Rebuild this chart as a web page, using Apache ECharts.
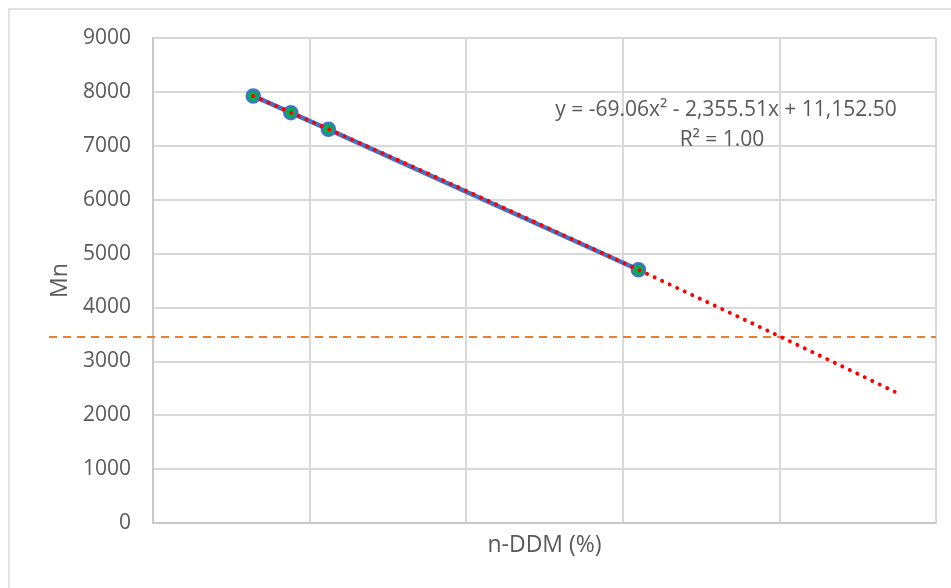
<!DOCTYPE html>
<html>
<head>
<meta charset="utf-8">
<script src="https://cdn.jsdelivr.net/npm/echarts@6/dist/echarts.min.js"></script>
<style>
  html, body { margin: 0; padding: 0; background: #fff; }
  #chart { width: 951px; height: 588px; }
</style>
</head>
<body>
<div id="chart"></div>
<script>
// Measured points: n-DDM (%) against Mn
const nDDM = [1.32, 1.44, 1.56, 2.55];
const mn = [7925, 7615, 7305, 4700];

// Quadratic trendline coefficients as printed in the label: a*x^2 + b*x + c
const trendCoef = [-69.06, -2355.51, 11152.50];
const trendR2 = 1.00;
const trendForecastEnd = 3.375;   // trendline forecast forward to this x

// Horizontal reference level
const refLevel = [3450];

// Axis ranges / ticks
const yTicks = [0, 1000, 2000, 3000, 4000, 5000, 6000, 7000, 8000, 9000];
const xRange = [1, 3.5];
const xStep = 0.5;

const FONT = "'Open Sans', 'Noto Sans', sans-serif";
const TEXT = '#595959';

// Trendline points from the printed equation
const trendData = [];
const nSteps = 60;
const x0 = nDDM[0];
for (let i = 0; i <= nSteps; i++) {
  const x = x0 + (trendForecastEnd - x0) * i / nSteps;
  trendData.push([x, trendCoef[0] * x * x + trendCoef[1] * x + trendCoef[2]]);
}

const fmt = (v) => v.toLocaleString('en-US', { minimumFractionDigits: 2, maximumFractionDigits: 2 });
const eqText = 'y = ' + fmt(trendCoef[0]) + 'x\u00B2 - ' + fmt(-trendCoef[1]) + 'x + ' + fmt(trendCoef[2]);
const r2Text = 'R\u00B2 = ' + trendR2.toFixed(2);

const chart = echarts.init(document.getElementById('chart'), null, { renderer: 'canvas' });

chart.setOption({
  animation: false,
  backgroundColor: '#ffffff',
  grid: [
    { left: 153, right: 15, top: 38, bottom: 65 },
    { left: 49, right: 15, top: 38, bottom: 65 }
  ],
  xAxis: [
    {
      gridIndex: 0,
      type: 'value',
      min: xRange[0],
      max: xRange[1],
      interval: xStep,
      name: 'n-DDM (%)',
      nameLocation: 'middle',
      nameGap: 11,
      nameTextStyle: { fontFamily: FONT, fontSize: 23, color: TEXT, verticalAlign: 'top' },
      axisLine: { show: true, lineStyle: { color: '#c8c8c8', width: 2 } },
      axisTick: { show: false },
      axisLabel: { show: false },
      splitLine: { show: true, lineStyle: { color: '#d9d9d9', width: 2 } }
    },
    {
      gridIndex: 1,
      type: 'value',
      min: 0,
      max: 1,
      show: false
    }
  ],
  yAxis: [
    {
      gridIndex: 0,
      type: 'value',
      min: yTicks[0],
      max: yTicks[yTicks.length - 1],
      interval: yTicks[1] - yTicks[0],
      name: 'Mn',
      nameLocation: 'middle',
      nameGap: 80,
      nameTextStyle: { fontFamily: FONT, fontSize: 23, color: TEXT },
      axisLine: { show: true, lineStyle: { color: '#c8c8c8', width: 2 } },
      axisTick: { show: false },
      axisLabel: { fontFamily: FONT, fontSize: 21, color: TEXT, margin: 22, formatter: (v) => String(v) },
      splitLine: { show: true, lineStyle: { color: '#d9d9d9', width: 2 } }
    },
    {
      gridIndex: 1,
      type: 'value',
      min: yTicks[0],
      max: yTicks[yTicks.length - 1],
      show: false
    }
  ],
  series: [
    {
      name: 'Reference',
      type: 'line',
      xAxisIndex: 1,
      yAxisIndex: 1,
      data: [[0, refLevel[0]], [1, refLevel[0]]],
      symbol: 'none',
      lineStyle: { color: '#ED7D31', width: 2, type: [8, 6] },
      silent: true,
      z: 2
    },
    {
      name: 'Mn',
      type: 'line',
      data: nDDM.map((x, i) => [x, mn[i]]),
      symbol: 'circle',
      symbolSize: 13,
      lineStyle: { color: '#4472C4', width: 4.5 },
      itemStyle: { color: '#00B050', borderColor: '#4472C4', borderWidth: 2.5 },
      z: 3
    },
    {
      name: 'Trend',
      type: 'line',
      data: trendData,
      symbol: 'none',
      lineStyle: { color: '#FF0000', width: 4, type: [0.01, 8.3], cap: 'round' },
      z: 4
    }
  ],
  graphic: [
    {
      // chart-area frame; its right and bottom edges run past the canvas
      type: 'rect',
      shape: { x: 9, y: 9, width: 1200, height: 1200 },
      style: { fill: null, stroke: '#d9d9d9', lineWidth: 1.5 },
      silent: true,
      z: -10
    },
    {
      type: 'text',
      x: 726,
      y: 110,
      style: { text: eqText, fontFamily: FONT, fontSize: 21, fill: TEXT, textAlign: 'center', textVerticalAlign: 'middle' },
      z: 10
    },
    {
      type: 'text',
      x: 722,
      y: 140,
      style: { text: r2Text, fontFamily: FONT, fontSize: 21, fill: TEXT, textAlign: 'center', textVerticalAlign: 'middle' },
      z: 10
    }
  ]
});
</script>
</body>
</html>
